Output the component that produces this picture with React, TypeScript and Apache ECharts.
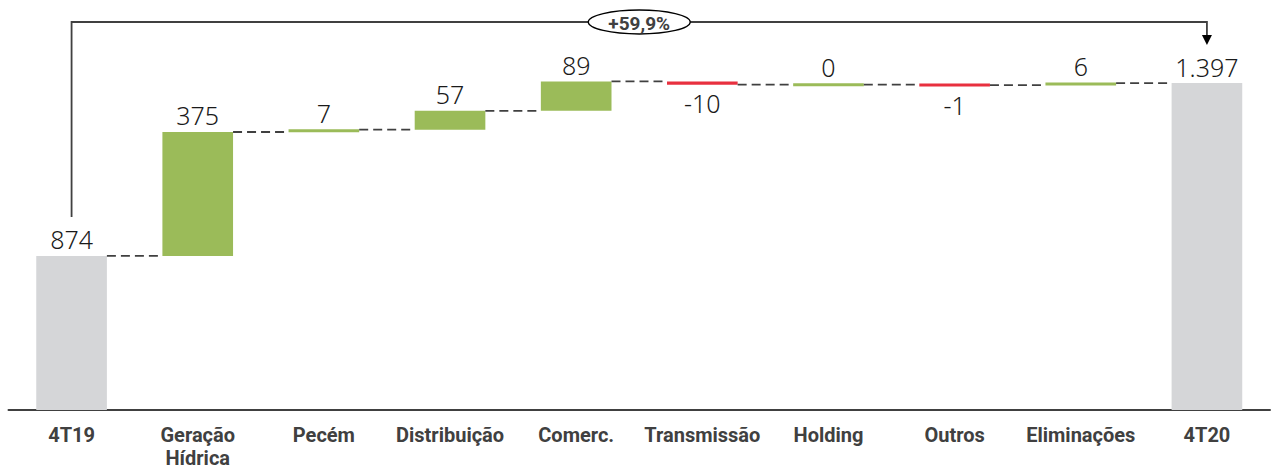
import React, { useEffect, useRef } from "react";
import * as echarts from "echarts";

const categories = [
  "4T19",
  "Geração\nHídrica",
  "Pecém",
  "Distribuição",
  "Comerc.",
  "Transmissão",
  "Holding",
  "Outros",
  "Eliminações",
  "4T20",
];
const values = [874, 375, 7, 57, 89, -10, 0, -1, 6, 1397];
const valueLabels = ["874", "375", "7", "57", "89", "-10", "0", "-1", "6", "1.397"];
const isTotal = [true, false, false, false, false, false, false, false, false, true];
const changeLabel = "+59,9%";

const Y_MIN = 408;
const Y_MAX = 1618;

const GRAY = "#d5d6d8";
const GREEN = "#9bbb59";
const RED = "#e8303f";
const DARK = "#404040";
const TEXT = "#1a1a1a";

export default function App() {
  const ref = useRef<HTMLDivElement>(null);

  useEffect(() => {
    if (!ref.current) return;
    const chart = echarts.init(ref.current, null, { renderer: "svg" });

    const starts: number[] = [];
    const ends: number[] = [];
    let acc = 0;
    values.forEach((v, i) => {
      if (isTotal[i]) {
        starts.push(Y_MIN);
        ends.push(v);
        acc = v;
      } else {
        starts.push(acc);
        acc += v;
        ends.push(acc);
      }
    });

    const barData = categories.map((_, i) => [i, starts[i], ends[i]]);

    const labelFont = { fontFamily: "Noto Sans", fontSize: 25, fontWeight: 300 };

    const option: any = {
      animation: false,
      grid: { left: 8.5, right: 3, top: 10, bottom: 59, containLabel: false },
      xAxis: {
        type: "category",
        data: categories,
        axisTick: { show: false },
        axisLine: { onZero: false, lineStyle: { color: DARK, width: 2 } },
        axisLabel: {
          interval: 0,
          color: DARK,
          fontFamily: "Roboto",
          fontWeight: "bold",
          fontSize: 20,
          lineHeight: 23,
          margin: 13,
        },
        splitLine: { show: false },
      },
      yAxis: {
        type: "value",
        min: Y_MIN,
        max: Y_MAX,
        show: false,
        splitLine: { show: false },
      },
      series: [
        {
          type: "custom",
          clip: false,
          data: barData,
          encode: { x: 0, y: [1, 2] },
          renderItem: (params: any, api: any) => {
            const i = params.dataIndex;
            const s = api.value(1);
            const e = api.value(2);
            const p0 = api.coord([i, s]);
            const p1 = api.coord([i, e]);
            const band = api.size([1, 0])[0];
            const bw = band * 0.56;
            const x = p0[0] - bw / 2;
            let yTop = Math.min(p0[1], p1[1]);
            let h = Math.abs(p0[1] - p1[1]);
            if (h < 3) {
              const mid = (p0[1] + p1[1]) / 2;
              h = 3;
              yTop = mid - 1.5;
            }
            const v = values[i];
            const color = isTotal[i] ? GRAY : v < 0 ? RED : GREEN;
            const children: any[] = [
              {
                type: "rect",
                shape: { x, y: yTop, width: bw, height: h },
                style: { fill: color },
              },
            ];
            const negative = !isTotal[i] && v < 0;
            children.push({
              type: "text",
              x: p0[0],
              y: negative ? yTop + h + 6 : yTop - 4,
              style: {
                text: valueLabels[i],
                fill: TEXT,
                ...labelFont,
                align: "center",
                verticalAlign: negative ? "top" : "bottom",
              },
            });
            if (i < categories.length - 1) {
              const level = api.coord([i, e])[1];
              const nextX = api.coord([i + 1, e])[0] - bw / 2;
              children.push({
                type: "line",
                shape: { x1: x + bw, y1: level, x2: nextX, y2: level },
                style: { stroke: DARK, lineWidth: 1.8, lineDash: [9, 5] },
              });
            }
            return { type: "group", children };
          },
          z: 2,
        },
        {
          type: "custom",
          clip: false,
          data: [[0, categories.length - 1]],
          renderItem: (params: any, api: any) => {
            const a = api.coord([0, ends[0]]);
            const b = api.coord([categories.length - 1, ends[ends.length - 1]]);
            const topY = 22;
            const leftBottom = a[1] - 39;
            const arrowTip = b[1] - 38;
            const midX = (a[0] + b[0]) / 2;
            return {
              type: "group",
              children: [
                {
                  type: "polyline",
                  shape: {
                    points: [
                      [a[0], leftBottom],
                      [a[0], topY],
                      [b[0], topY],
                      [b[0], arrowTip - 8],
                    ],
                  },
                  style: { stroke: DARK, lineWidth: 1.8, fill: null },
                },
                {
                  type: "polygon",
                  shape: {
                    points: [
                      [b[0] - 5, arrowTip - 10],
                      [b[0] + 5, arrowTip - 10],
                      [b[0], arrowTip],
                    ],
                  },
                  style: { fill: "#000" },
                },
                {
                  type: "ellipse",
                  shape: { cx: midX, cy: topY, rx: 51, ry: 12 },
                  style: { fill: "#fff", stroke: "#000", lineWidth: 1.3 },
                },
                {
                  type: "text",
                  x: midX,
                  y: topY + 1,
                  style: {
                    text: changeLabel,
                    fill: DARK,
                    fontFamily: "Roboto",
                    fontWeight: "bold",
                    fontSize: 19,
                    align: "center",
                    verticalAlign: "middle",
                  },
                },
              ],
            };
          },
          z: 3,
        },
      ],
    };

    chart.setOption(option);
    return () => chart.dispose();
  }, []);

  return (
    <div
      ref={ref}
      style={{ position: "fixed", left: 0, top: 0, width: 1273, height: 469, background: "#fff" }}
    />
  );
}
